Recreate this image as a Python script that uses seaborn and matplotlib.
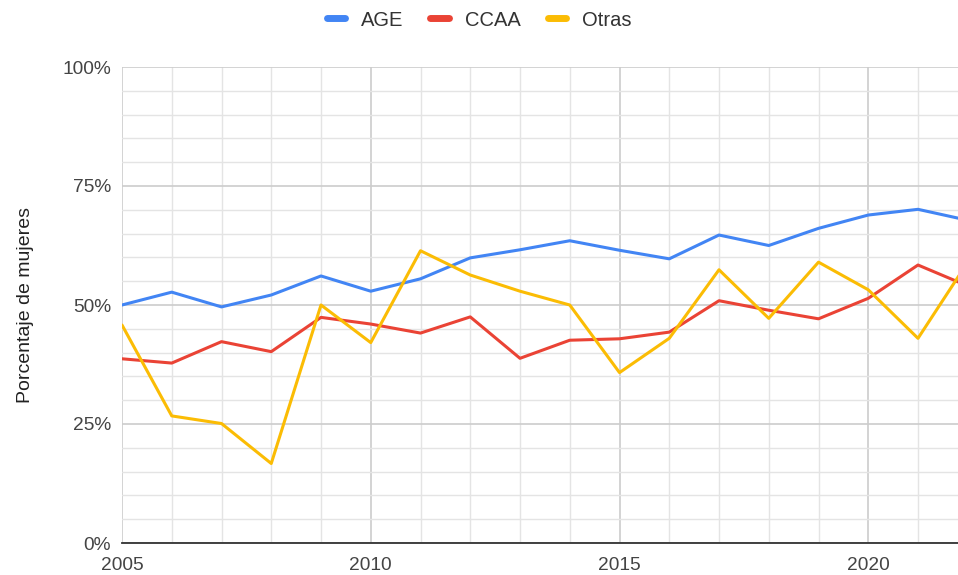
import numpy as np
import pandas as pd
import seaborn as sns
import matplotlib.pyplot as plt
from matplotlib.ticker import MultipleLocator, PercentFormatter

# Data
years = list(range(2005, 2023))
age = [50.0, 52.7, 49.6, 52.1, 56.1, 52.9, 55.5, 59.9, 61.6, 63.5,
       61.5, 59.7, 64.7, 62.5, 66.1, 68.9, 70.1, 67.8]
ccaa = [38.7, 37.8, 42.3, 40.2, 47.4, 46.0, 44.1, 47.5, 38.8, 42.6,
        42.9, 44.3, 50.9, 48.9, 47.1, 51.4, 58.4, 54.0]
otras = [45.8, 26.7, 25.1, 16.7, 50.0, 42.1, 61.4, 56.3, 52.9, 50.0,
         35.8, 43.0, 57.4, 47.2, 59.0, 53.2, 43.0, 59.0]
series = ["AGE", "CCAA", "Otras"]
colors = ["#4285F4", "#EA4335", "#FBBC04"]

df = pd.DataFrame({"year": years, "AGE": age, "CCAA": ccaa, "Otras": otras})
df = df.melt(id_vars="year", var_name="serie", value_name="pct")

sns.set_style("white")
plt.rcParams["font.family"] = ["Liberation Sans", "DejaVu Sans"]

fig = plt.figure(figsize=(9.58, 5.75), dpi=100)
ax = fig.add_axes([122 / 958, 1 - 543 / 575, 1 - 122 / 958, (543 - 67) / 575])

sns.lineplot(data=df, x="year", y="pct", hue="serie", hue_order=series,
             palette=colors, linewidth=2.2, ax=ax, legend=False)

ax.set_xlim(2005, 2005 + (958 - 122) / 49.75)
ax.set_ylim(0, 100)
ax.xaxis.set_major_locator(MultipleLocator(5))
ax.xaxis.set_minor_locator(MultipleLocator(1))
ax.yaxis.set_major_locator(MultipleLocator(25))
ax.yaxis.set_minor_locator(MultipleLocator(5))
ax.yaxis.set_major_formatter(PercentFormatter(decimals=0))
ax.grid(which="major", color="#cccccc", linewidth=1.2)
ax.grid(which="minor", color="#e4e4e4", linewidth=1.0)
ax.set_axisbelow(True)
ax.tick_params(which="both", length=0, labelsize=13.8, labelcolor="#444444")
ax.tick_params(axis="x", pad=10)
ax.tick_params(axis="y", pad=8)
for s in ["top", "right", "left"]:
    ax.spines[s].set_visible(False)
ax.spines["bottom"].set_color("#333333")
ax.spines["bottom"].set_linewidth(1.3)
ax.set_xlabel("")
ax.set_ylabel("Porcentaje de mujeres", fontsize=14, color="#222222", labelpad=20)

handles = [plt.Line2D([0], [0], color=c, linewidth=5) for c in colors]
fig.legend(handles, series, loc="center", bbox_to_anchor=(0.5, 1 - 20 / 575),
           ncol=3, frameon=False, fontsize=14.5, handlelength=0.9,
           columnspacing=1.35, handletextpad=0.8, labelcolor="#333333")

fig.savefig("out.png", dpi=100)
